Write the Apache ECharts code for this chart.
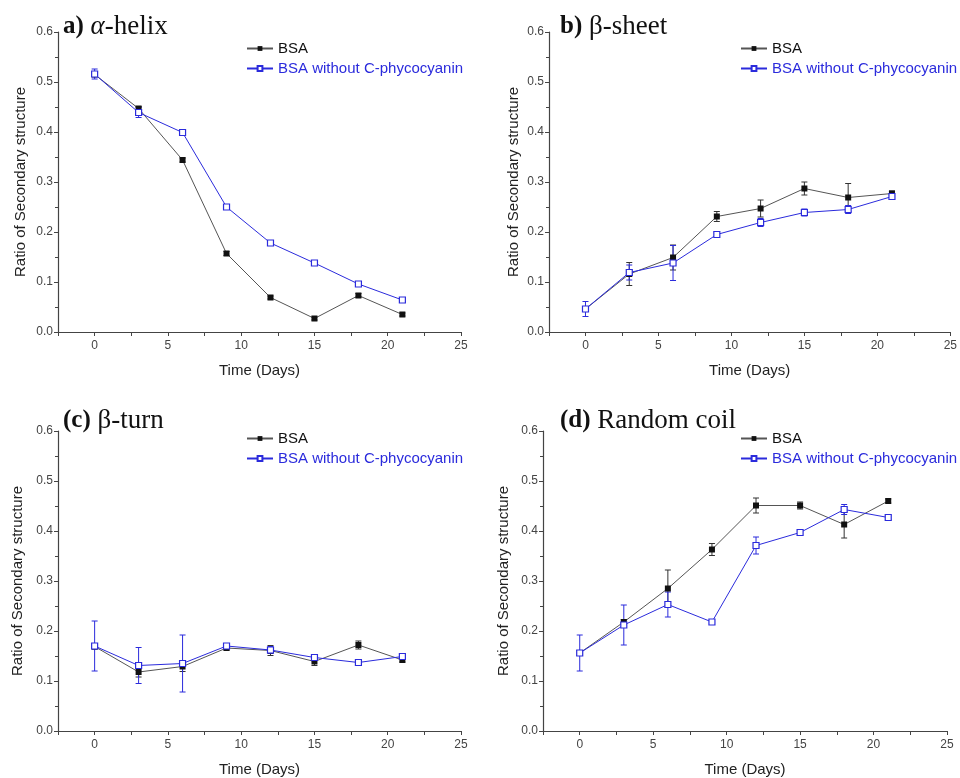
<!DOCTYPE html>
<html><head><meta charset="utf-8">
<script src="https://cdn.jsdelivr.net/npm/echarts@6/dist/echarts.min.js"></script>
<style>html,body{margin:0;padding:0;background:#fff}#c{width:960px;height:778px}</style>
</head><body><div id="c"></div>
<script>
const days = [0, 3, 6, 9, 12, 15, 18, 21];
const seriesNames = ['BSA', 'BSA without C-phycocyanin'];
const panelTitles = [['a)', 'α', '-helix'], ['b)', '', 'β-sheet'], ['(c)', '', 'β-turn'], ['(d)', '', 'Random coil']];
const xTicks = [0, 5, 10, 15, 20, 25];
const yTicks = [0.0, 0.1, 0.2, 0.3, 0.4, 0.5, 0.6];

// a) alpha-helix
const helixBSA = [0.515, 0.447, 0.344, 0.157, 0.069, 0.027, 0.073, 0.035];
const helixBSAErr = [0.004, 0.004, 0.004, 0.004, 0.003, 0.003, 0.004, 0.003];
const helixNoCPC = [0.516, 0.439, 0.399, 0.250, 0.178, 0.138, 0.096, 0.064];
const helixNoCPCErr = [0.010, 0.010, 0.004, 0.005, 0.003, 0.003, 0.003, 0.003];
// b) beta-sheet
const sheetBSA = [0.046, 0.116, 0.149, 0.231, 0.247, 0.287, 0.269, 0.277];
const sheetBSAErr = [0.005, 0.023, 0.025, 0.010, 0.017, 0.013, 0.028, 0.005];
const sheetNoCPC = [0.046, 0.119, 0.138, 0.195, 0.219, 0.239, 0.245, 0.271];
const sheetNoCPCErr = [0.015, 0.015, 0.035, 0.005, 0.008, 0.007, 0.008, 0.005];
// c) beta-turn
const turnBSA = [0.169, 0.118, 0.129, 0.166, 0.161, 0.139, 0.172, 0.142];
const turnBSAErr = [0.005, 0.010, 0.010, 0.004, 0.010, 0.008, 0.008, 0.004];
const turnNoCPC = [0.170, 0.131, 0.135, 0.170, 0.162, 0.147, 0.137, 0.149];
const turnNoCPCErr = [0.050, 0.036, 0.057, 0.004, 0.007, 0.004, 0.003, 0.004];
// d) random coil
const coilBSA = [0.156, 0.218, 0.285, 0.363, 0.451, 0.451, 0.413, 0.460];
const coilBSAErr = [0.005, 0.005, 0.037, 0.012, 0.015, 0.007, 0.027, 0.004];
const coilNoCPC = [0.156, 0.212, 0.253, 0.218, 0.371, 0.397, 0.443, 0.427];
const coilNoCPCErr = [0.036, 0.040, 0.025, 0.004, 0.017, 0.004, 0.010, 0.004];

const panels = [
  [helixBSA, helixBSAErr, helixNoCPC, helixNoCPCErr],
  [sheetBSA, sheetBSAErr, sheetNoCPC, sheetNoCPCErr],
  [turnBSA, turnBSAErr, turnNoCPC, turnNoCPCErr],
  [coilBSA, coilBSAErr, coilNoCPC, coilNoCPCErr]
];

const BLACK = '#111111', LINE_BLACK = '#555555', BLUE = '#2b2bdc';
const gridPos = [
  {left: 58, top: 32, width: 403, height: 300},
  {left: 549, top: 32, width: 404, height: 300},
  {left: 58, top: 431, width: 403, height: 300},
  {left: 543, top: 431, width: 404, height: 300}
];
const titlePos = [
  {left: 63, top: 13}, {left: 560, top: 13}, {left: 63, top: 407}, {left: 560, top: 407}
];
const legendPos = [
  {left: 246, top: 41}, {left: 740, top: 41}, {left: 246, top: 431}, {left: 740, top: 431}
];
const yNameGap = [30, 28, 33, 32];

const chart = echarts.init(document.getElementById('c'));
const axisLineStyle = {color: '#444', width: 1.2};
const labelStyle = {color: '#444', fontSize: 12, fontFamily: 'Liberation Sans'};
const nameStyle = {color: '#222', fontSize: 15, fontFamily: 'Liberation Sans'};

const grid = [], xAxis = [], yAxis = [], series = [], title = [], legend = [];

function errSeries(idx, vals, errs, color) {
  return {
    type: 'custom', name: 'err' + idx + color, xAxisIndex: idx, yAxisIndex: idx, z: 3,
    data: days.map((d, i) => [d, vals[i], errs[i]]),
    renderItem: function (params, api) {
      const x = api.value(0), y = api.value(1), e = api.value(2);
      const top = api.coord([x, y + e]);
      const bot = api.coord([x, y - e]);
      const w = 3;
      return {
        type: 'group',
        children: [
          {type: 'line', shape: {x1: top[0], y1: top[1], x2: bot[0], y2: bot[1]}, style: {stroke: color, lineWidth: 1}},
          {type: 'line', shape: {x1: top[0] - w, y1: top[1], x2: top[0] + w, y2: top[1]}, style: {stroke: color, lineWidth: 1}},
          {type: 'line', shape: {x1: bot[0] - w, y1: bot[1], x2: bot[0] + w, y2: bot[1]}, style: {stroke: color, lineWidth: 1}}
        ]
      };
    }
  };
}

panels.forEach((p, i) => {
  grid.push(Object.assign({containLabel: false}, gridPos[i]));
  xAxis.push({
    type: 'value', gridIndex: i, min: -2.5, max: 25, interval: 2.5,
    name: 'Time (Days)', nameLocation: 'middle', nameGap: 31, nameTextStyle: nameStyle,
    axisLine: {show: true, onZero: false, lineStyle: axisLineStyle},
    axisTick: {show: true, length: 4, lineStyle: {color: '#444'}},
    splitLine: {show: false},
    axisLabel: Object.assign({}, labelStyle, {
      margin: 8,
      formatter: v => (xTicks.indexOf(v) >= 0 ? String(v) : '')
    })
  });
  yAxis.push({
    type: 'value', gridIndex: i, min: 0, max: 0.6, interval: 0.1,
    name: 'Ratio of Secondary structure', nameLocation: 'middle', nameGap: yNameGap[i], nameTextStyle: nameStyle,
    axisLine: {show: true, onZero: false, lineStyle: axisLineStyle},
    axisTick: {show: true, length: 4, lineStyle: {color: '#444'}},
    minorTick: {show: true, splitNumber: 2, length: 3, lineStyle: {color: '#444'}},
    splitLine: {show: false},
    axisLabel: Object.assign({}, labelStyle, {formatter: v => v.toFixed(1), margin: 5})
  });
  const t = panelTitles[i];
  title.push(Object.assign({
    padding: 0,
    text: '{b|' + t[0] + '} ' + (t[1] ? '{g|' + t[1] + '}' : '') + '{n|' + t[2] + '}',
    textStyle: {
      fontWeight: 'normal', fontSize: 27, fontFamily: 'Liberation Serif',
      rich: {
        b: {fontFamily: 'Liberation Serif', fontWeight: 'bold', fontSize: 25, color: '#111'},
        g: {fontFamily: 'Liberation Serif', fontStyle: 'italic', fontWeight: 'normal', fontSize: 27, color: '#111'},
        n: {fontFamily: 'Liberation Serif', fontWeight: 'normal', fontSize: 27, color: '#111'}
      }
    }
  }, titlePos[i]));
  legend.push(Object.assign({
    orient: 'vertical', itemWidth: 26, itemHeight: 6, itemGap: 5, padding: 0,
    data: [
      {name: seriesNames[0], textStyle: {color: '#111'}},
      {name: seriesNames[1], textStyle: {color: BLUE}}
    ],
    textStyle: {fontSize: 15, fontFamily: 'Liberation Sans'}
  }, legendPos[i]));
  series.push(errSeries(i, p[0], p[1], '#333'));
  series.push(errSeries(i, p[2], p[3], BLUE));
  series.push({
    type: 'line', name: seriesNames[0], xAxisIndex: i, yAxisIndex: i, z: 4,
    data: days.map((d, k) => [d, p[0][k]]),
    symbol: 'rect', symbolSize: 6,
    itemStyle: {color: BLACK},
    lineStyle: {color: LINE_BLACK, width: 1},
    animation: false
  });
  series.push({
    type: 'line', name: seriesNames[1], xAxisIndex: i, yAxisIndex: i, z: 5,
    data: days.map((d, k) => [d, p[2][k]]),
    symbol: 'rect', symbolSize: 6,
    itemStyle: {color: '#fff', borderColor: BLUE, borderWidth: 1.2},
    lineStyle: {color: BLUE, width: 1},
    animation: false
  });
});

chart.setOption({
  animation: false,
  backgroundColor: '#fff',
  title, legend, grid, xAxis, yAxis, series
});
</script>
</body></html>
